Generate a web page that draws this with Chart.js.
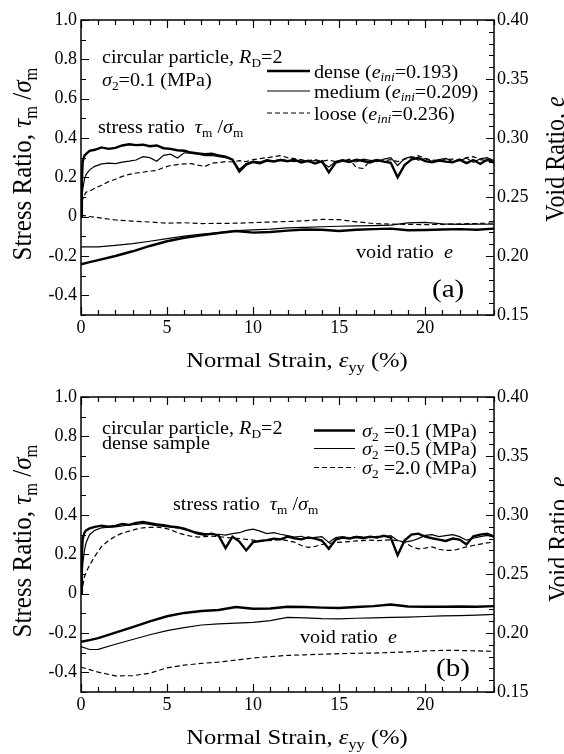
<!DOCTYPE html>
<html><head><meta charset="utf-8">
<script src="https://cdn.jsdelivr.net/npm/chart.js@4.4.1/dist/chart.umd.min.js"></script>
<style>
html,body{margin:0;padding:0;background:#fff;}
#wrap{position:relative;width:564px;height:754px;overflow:hidden;}
.pc{position:absolute;left:0;width:564px;height:377px;}
</style></head><body>
<div id="wrap">
<div class="pc" style="top:0"><canvas id="ca" width="564" height="377"></canvas></div>
<div class="pc" style="top:377px"><canvas id="cb" width="564" height="377"></canvas></div>
</div>
<script>
// ---------- tick labels ----------
const strainTicks = [0, 5, 10, 15, 20];
const strainLabels = ['0', '5', '10', '15', '20'];
const stressTicks = [-0.4, -0.2, 0, 0.2, 0.4, 0.6, 0.8, 1.0];
const stressLabels = ['-0.4', '-0.2', '0', '0.2', '0.4', '0.6', '0.8', '1.0'];
const voidTicks = [0.15, 0.20, 0.25, 0.30, 0.35, 0.40];
const voidLabels = ['0.15', '0.20', '0.25', '0.30', '0.35', '0.40'];

// ---------- strain (x) values ----------
const strainS = [0,0.05,0.1,0.2,0.3,0.5,0.8,1.2,1.6,2.0,2.4,2.8,3.2,3.6,4.0,4.4,4.8,5.2,5.6,6.0,6.4,6.8,7.2,7.6,8.0,8.4,8.8,9.2,9.6,10.0,10.4,10.8,11.2,11.6,12.0,12.4,12.8,13.2,13.6,14.0,14.4,14.8,15.2,15.6,16.0,16.4,16.8,17.2,17.6,18.0,18.4,18.8,19.2,19.6,20.0,20.4,20.8,21.2,21.6,22.0,22.4,22.8,23.2,23.6,24.0];
const strainE = [0,0.5,1,2,3,4,5,6,7,8,9,10,11,12,13,14,15,16,17,18,19,20,21,22,23,24];

// ---------- panel (a): stress ratio ----------
const aStressDense = [0.0,0.18,0.28,0.31,0.32,0.335,0.34,
0.352,0.345,0.35,0.362,0.368,0.364,0.366,0.358,0.362,0.348,
0.345,0.338,0.335,0.326,0.322,0.318,0.32,0.312,0.305,0.29,
0.23,0.265,0.278,0.272,0.285,0.28,0.288,0.282,0.29,0.276,
0.284,0.27,0.282,0.225,0.275,0.285,0.278,0.29,0.283,0.276,
0.288,0.28,0.274,0.2,0.262,0.29,0.3,0.282,0.276,0.285,
0.28,0.276,0.29,0.272,0.288,0.268,0.29,0.275];
const aStressMedium = [0.0,0.08,0.14,0.19,0.215,0.238,0.256,
0.268,0.272,0.27,0.277,0.282,0.288,0.305,0.3,0.282,0.312,
0.318,0.298,0.325,0.322,0.318,0.31,0.312,0.305,0.3,0.292,
0.24,0.27,0.283,0.278,0.29,0.284,0.292,0.285,0.28,0.29,
0.278,0.286,0.275,0.252,0.282,0.29,0.283,0.278,0.292,0.286,
0.28,0.293,0.3,0.26,0.295,0.305,0.288,0.295,0.282,0.29,
0.296,0.28,0.285,0.298,0.276,0.294,0.3,0.285];
const aStressLoose = [0.03,0.06,0.09,0.11,0.125,0.13,0.145,
0.16,0.178,0.19,0.205,0.215,0.222,0.226,0.232,0.235,0.25,
0.26,0.265,0.268,0.27,0.262,0.255,0.272,0.275,0.28,0.278,
0.285,0.28,0.29,0.295,0.3,0.305,0.31,0.3,0.295,0.288,
0.285,0.29,0.282,0.288,0.28,0.285,0.292,0.25,0.245,0.285,
0.29,0.283,0.29,0.28,0.292,0.3,0.31,0.296,0.288,0.285,
0.29,0.293,0.286,0.3,0.305,0.29,0.285,0.29];
// ---------- panel (a): void ratio ----------
const aVoidDense = [0.193,0.1948,0.1965,0.2,0.204,0.2085,0.2125,0.2155,0.2175,0.2195,0.2212,0.2198,0.2203,0.2215,0.2225,0.2222,0.2212,0.2222,0.2228,0.2232,0.2218,0.222,0.2225,0.2228,0.2222,0.2232];
const aVoidMedium = [0.2077,0.2077,0.2078,0.209,0.2105,0.2125,0.2148,0.2168,0.2185,0.2198,0.2215,0.2222,0.2228,0.2238,0.2242,0.2248,0.2252,0.2255,0.2258,0.2262,0.228,0.2285,0.2272,0.2268,0.227,0.2269];
const aVoidLoose = [0.2345,0.2335,0.2325,0.2305,0.2295,0.2288,0.2278,0.2282,0.2275,0.2276,0.2278,0.2283,0.2288,0.2292,0.2298,0.231,0.2308,0.229,0.2275,0.227,0.2268,0.2266,0.2268,0.2272,0.2275,0.228];

// ---------- panel (b): stress ratio ----------
const bStress01 = [0.0,0.2,0.28,0.31,0.322,0.332,0.34,
0.346,0.34,0.345,0.355,0.35,0.36,0.365,0.358,0.352,0.348,
0.342,0.338,0.33,0.318,0.305,0.3,0.305,0.295,0.232,0.29,
0.265,0.22,0.262,0.268,0.272,0.28,0.276,0.29,0.282,0.276,
0.286,0.28,0.27,0.228,0.275,0.285,0.28,0.288,0.282,0.29,
0.285,0.295,0.285,0.195,0.27,0.3,0.305,0.29,0.282,0.275,
0.268,0.28,0.275,0.25,0.292,0.3,0.305,0.29];
const bStress05 = [0.0,0.08,0.15,0.22,0.26,0.3,0.322,
0.335,0.338,0.34,0.345,0.35,0.352,0.357,0.352,0.346,0.342,
0.338,0.335,0.328,0.318,0.312,0.305,0.3,0.302,0.298,0.305,
0.31,0.322,0.328,0.318,0.305,0.31,0.302,0.295,0.288,0.292,
0.28,0.286,0.29,0.26,0.285,0.29,0.284,0.292,0.288,0.285,
0.292,0.29,0.295,0.27,0.262,0.268,0.28,0.296,0.3,0.29,
0.295,0.3,0.29,0.272,0.282,0.29,0.296,0.288];
const bStress20 = [0.0,0.02,0.04,0.085,0.11,0.145,0.19,
0.24,0.27,0.292,0.308,0.318,0.328,0.335,0.337,0.338,0.334,
0.326,0.31,0.3,0.292,0.288,0.29,0.292,0.29,0.286,0.283,
0.28,0.276,0.272,0.268,0.27,0.272,0.275,0.27,0.262,0.245,
0.235,0.24,0.25,0.255,0.26,0.262,0.265,0.268,0.27,0.272,
0.27,0.272,0.274,0.27,0.26,0.24,0.228,0.232,0.238,0.226,
0.22,0.22,0.228,0.238,0.245,0.252,0.258,0.262];
// ---------- panel (b): void ratio ----------
const bVoid01 = [0.1925,0.194,0.1957,0.2003,0.205,0.2098,0.2142,0.217,0.2187,0.2195,0.222,0.2206,0.2208,0.2222,0.222,0.2215,0.2212,0.222,0.2228,0.2242,0.2225,0.2222,0.2222,0.2225,0.2222,0.2228];
const bVoid05 = [0.1885,0.186,0.1862,0.1905,0.1945,0.1985,0.202,0.2045,0.2068,0.2078,0.2083,0.209,0.2105,0.2132,0.2128,0.2122,0.212,0.2125,0.2128,0.2132,0.2135,0.214,0.2145,0.2148,0.2152,0.2157];
const bVoid20 = [0.171,0.169,0.1668,0.1637,0.1638,0.166,0.1705,0.1728,0.1742,0.1754,0.177,0.1788,0.18,0.181,0.1815,0.182,0.1825,0.1828,0.183,0.1835,0.184,0.1848,0.1853,0.1852,0.1848,0.1845];

// ---------- helpers ----------
const FAM = '"Liberation Serif", "Times New Roman", serif';
const SX = 1.12; // horizontal stretch of reference lettering
const STY = {
  thick: {w: 2.4, d: []},
  thin:  {w: 1.2, d: []},
  dash:  {w: 1.2, d: [5, 3]}
};
function fontFor(st, fs) {
  const it = st.includes('i') ? 'italic ' : '';
  const size = st.includes('s') ? fs * 0.66 : fs;
  return it + size.toFixed(1) + 'px ' + FAM;
}
function richWidth(ctx, segs, fs) {
  let w = 0;
  for (const [t, st] of segs) { ctx.font = fontFor(st, fs); w += ctx.measureText(t).width; }
  return w;
}
function drawRich(ctx, segs, x, y, fs, align, rot) {
  ctx.save();
  ctx.translate(x, y);
  ctx.scale(SX, 1);
  if (rot) ctx.rotate(-Math.PI / 2);
  const w = richWidth(ctx, segs, fs);
  let cx = align === 'center' ? -w / 2 : (align === 'right' ? -w : 0);
  ctx.fillStyle = '#000';
  ctx.textBaseline = 'alphabetic';
  ctx.textAlign = 'left';
  for (const [t, st] of segs) {
    ctx.font = fontFor(st, fs);
    const dy = st.includes('s') ? fs * 0.22 : 0;
    ctx.fillText(t, cx, dy);
    cx += ctx.measureText(t).width;
  }
  ctx.restore();
}
function pts(xs, ys) { return xs.map((x, i) => ({x: x, y: ys[i]})); }

const framePlugin = {
  id: 'frame',
  afterDatasetsDraw(chart) {
    const ctx = chart.ctx, a = chart.chartArea;
    const sx = chart.scales.x, sy = chart.scales.y, sy2 = chart.scales.y2;
    ctx.save();
    ctx.strokeStyle = '#000';
    ctx.lineWidth = 1.2;
    ctx.beginPath();
    for (let v = 0; v <= 24; v++) {
      const px = Math.round(sx.getPixelForValue(v)) + 0.5;
      const L = v % 5 === 0 ? 8 : 5;
      ctx.moveTo(px, a.bottom); ctx.lineTo(px, a.bottom - L);
      ctx.moveTo(px, a.top); ctx.lineTo(px, a.top + L);
    }
    for (let k = -5; k <= 10; k++) {
      const py = Math.round(sy.getPixelForValue(k / 10)) + 0.5;
      const L = Math.abs(k) % 2 === 0 ? 8 : 5;
      ctx.moveTo(a.left, py); ctx.lineTo(a.left + L, py);
    }
    for (let k = 15; k <= 40; k++) {
      const py = Math.round(sy2.getPixelForValue(k / 100)) + 0.5;
      const L = k % 5 === 0 ? 8 : 5;
      ctx.moveTo(a.right, py); ctx.lineTo(a.right - L, py);
    }
    ctx.stroke();
    ctx.lineWidth = 1.5;
    ctx.strokeRect(a.left, a.top, a.right - a.left, a.bottom - a.top);
    ctx.restore();

    const o = chart.options.plugins.frame;
    // axis titles
    drawRich(ctx, [['Normal Strain, ', ''], ['\u03b5', 'i'], ['yy', 's'], [' (%)', '']], 297, 367, 22, 'center', false);
    drawRich(ctx, [['Stress Ratio, ', ''], ['\u03c4', 'i'], ['m', 's'], [' /', ''], ['\u03c3', 'i'], ['m', 's']], 31, 164, 25, 'center', true);
    drawRich(ctx, [['Void Ratio, ', ''], ['e', 'i']], o.rtX, o.rtY, 24, 'center', true);
    // annotations
    for (const t of o.texts) drawRich(ctx, t.segs, t.x, t.y, t.fs, 'left', false);
    // legend
    for (const L of o.legend) {
      const s = STY[L.style];
      ctx.save();
      ctx.strokeStyle = '#000'; ctx.lineWidth = s.w; ctx.setLineDash(s.d);
      ctx.beginPath(); ctx.moveTo(L.x0, L.y); ctx.lineTo(L.x1, L.y); ctx.stroke();
      ctx.restore();
      drawRich(ctx, L.segs, L.tx, L.y + 6.5, 18, 'left', false);
    }
  }
};

function makePanel(id, series, frameOpts) {
  const datasets = series.map(s => ({
    data: pts(s.x, s.y),
    yAxisID: s.axis,
    borderColor: '#000',
    borderWidth: STY[s.style].w,
    borderDash: STY[s.style].d,
    pointRadius: 0,
    showLine: true,
    fill: false,
    tension: 0
  }));
  const tickFont = {family: FAM, size: 18};
  return new Chart(document.getElementById(id), {
    type: 'scatter',
    data: {datasets},
    options: {
      responsive: false,
      devicePixelRatio: 1,
      animation: false,
      layout: {padding: {top: 20, left: 0, right: 0, bottom: 0}},
      plugins: {legend: {display: false}, tooltip: {enabled: false}, frame: frameOpts},
      scales: {
        x: {
          type: 'linear', position: 'bottom', min: 0, max: 24,
          afterBuildTicks: sc => { sc.ticks = strainTicks.map(v => ({value: v})); },
          afterFit: sc => { sc.height = 62; },
          ticks: {font: tickFont, color: '#000', padding: 2, maxRotation: 0, autoSkip: false,
                  callback: (v, i) => strainLabels[i]},
          grid: {drawOnChartArea: false, drawTicks: false},
          border: {display: false}
        },
        y: {
          type: 'linear', position: 'left', min: -0.5, max: 1.0,
          afterBuildTicks: sc => { sc.ticks = stressTicks.map(v => ({value: v})); },
          afterFit: sc => { sc.width = 81; },
          ticks: {font: tickFont, color: '#000', padding: 4, autoSkip: false,
                  callback: (v, i) => stressLabels[i]},
          grid: {drawOnChartArea: false, drawTicks: false},
          border: {display: false}
        },
        y2: {
          type: 'linear', position: 'right', min: 0.15, max: 0.40,
          afterBuildTicks: sc => { sc.ticks = voidTicks.map(v => ({value: v})); },
          afterFit: sc => { sc.width = 70; },
          ticks: {font: tickFont, color: '#000', padding: 3, autoSkip: false,
                  callback: (v, i) => voidLabels[i]},
          grid: {drawOnChartArea: false, drawTicks: false},
          border: {display: false}
        }
      }
    },
    plugins: [framePlugin]
  });
}

makePanel('ca', [
  {x: strainS, y: aStressLoose, axis: 'y', style: 'dash'},
  {x: strainS, y: aStressMedium, axis: 'y', style: 'thin'},
  {x: strainS, y: aStressDense, axis: 'y', style: 'thick'},
  {x: strainE, y: aVoidLoose, axis: 'y2', style: 'dash'},
  {x: strainE, y: aVoidMedium, axis: 'y2', style: 'thin'},
  {x: strainE, y: aVoidDense, axis: 'y2', style: 'thick'}
], {
  rtX: 563.5, rtY: 159,
  texts: [
    {segs: [['circular particle, ', ''], ['R', 'i'], ['D', 's'], ['=2', '']], x: 102, y: 63, fs: 18},
    {segs: [['\u03c3', 'i'], ['2', 's'], ['=0.1 (MPa)', '']], x: 102, y: 86, fs: 18},
    {segs: [['stress ratio  ', ''], ['\u03c4', 'i'], ['m', 's'], [' /', ''], ['\u03c3', 'i'], ['m', 's']], x: 98, y: 133, fs: 18},
    {segs: [['void ratio  ', ''], ['e', 'i']], x: 356, y: 258, fs: 18},
    {segs: [['(a)', '']], x: 432, y: 297, fs: 26}
  ],
  legend: [
    {style: 'thick', x0: 267, x1: 310, y: 71, tx: 314, segs: [['dense (', ''], ['e', 'i'], ['ini', 'si'], ['=0.193)', '']]},
    {style: 'thin', x0: 267, x1: 310, y: 91, tx: 314, segs: [['medium (', ''], ['e', 'i'], ['ini', 'si'], ['=0.209)', '']]},
    {style: 'dash', x0: 267, x1: 310, y: 113, tx: 314, segs: [['loose (', ''], ['e', 'i'], ['ini', 'si'], ['=0.236)', '']]}
  ]
});

makePanel('cb', [
  {x: strainS, y: bStress20, axis: 'y', style: 'dash'},
  {x: strainS, y: bStress05, axis: 'y', style: 'thin'},
  {x: strainS, y: bStress01, axis: 'y', style: 'thick'},
  {x: strainE, y: bVoid20, axis: 'y2', style: 'dash'},
  {x: strainE, y: bVoid05, axis: 'y2', style: 'thin'},
  {x: strainE, y: bVoid01, axis: 'y2', style: 'thick'}
], {
  rtX: 567, rtY: 162,
  texts: [
    {segs: [['circular particle, ', ''], ['R', 'i'], ['D', 's'], ['=2', '']], x: 102, y: 57, fs: 18},
    {segs: [['dense sample', '']], x: 102, y: 72, fs: 18},
    {segs: [['stress ratio  ', ''], ['\u03c4', 'i'], ['m', 's'], [' /', ''], ['\u03c3', 'i'], ['m', 's']], x: 173, y: 133, fs: 18},
    {segs: [['void ratio  ', ''], ['e', 'i']], x: 300, y: 266, fs: 18},
    {segs: [['(b)', '']], x: 436, y: 299, fs: 26}
  ],
  legend: [
    {style: 'thick', x0: 314, x1: 355, y: 53.5, tx: 362, segs: [['\u03c3', 'i'], ['2', 's'], [' =0.1 (MPa)', '']]},
    {style: 'thin', x0: 314, x1: 355, y: 71.5, tx: 362, segs: [['\u03c3', 'i'], ['2', 's'], [' =0.5 (MPa)', '']]},
    {style: 'dash', x0: 314, x1: 355, y: 90.5, tx: 362, segs: [['\u03c3', 'i'], ['2', 's'], [' =2.0 (MPa)', '']]}
  ]
});
</script>
</body></html>
